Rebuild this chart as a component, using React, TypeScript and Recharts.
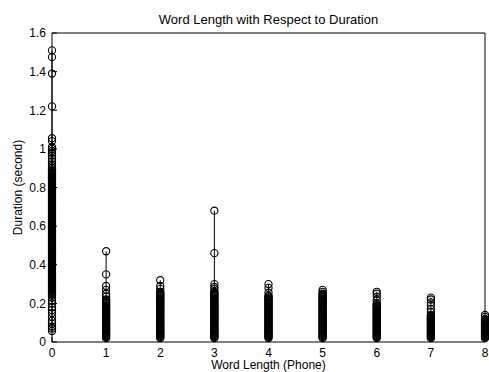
import { Label, Scatter, ScatterChart, XAxis, YAxis } from "recharts";

// word length in phones
const WORD_LENGTHS = [0, 1, 2, 3, 4, 5, 6, 7, 8];
const X_TICKS = [0, 1, 2, 3, 4, 5, 6, 7, 8];
const Y_TICKS = [0, 0.2, 0.4, 0.6, 0.8, 1, 1.2, 1.4, 1.6];

// durations (second), bottom to top; the solid parts of a column are packed tight
const DUR_0 = [
  0.057, 0.07, 0.08, 0.095, 0.11, 0.13, 0.15, 0.165, 0.18, 0.2, 0.215, 0.23,
  0.24, 0.245, 0.25, 0.255, 0.26, 0.265, 0.27, 0.275, 0.28, 0.285, 0.29, 0.295,
  0.3, 0.305, 0.31, 0.315, 0.32, 0.325, 0.33, 0.335, 0.34, 0.345, 0.35, 0.355,
  0.36, 0.365, 0.37, 0.375, 0.38, 0.385, 0.39, 0.395, 0.4, 0.405, 0.41, 0.415,
  0.42, 0.425, 0.43, 0.435, 0.44, 0.445, 0.45, 0.455, 0.46, 0.465, 0.47, 0.475,
  0.48, 0.485, 0.49, 0.495, 0.5, 0.505, 0.51, 0.515, 0.52, 0.525, 0.53, 0.535,
  0.54, 0.545, 0.55, 0.555, 0.56, 0.565, 0.57, 0.575, 0.58, 0.585, 0.59, 0.595,
  0.6, 0.605, 0.61, 0.615, 0.62, 0.625, 0.63, 0.635, 0.64, 0.645, 0.65, 0.655,
  0.66, 0.665, 0.67, 0.675, 0.68, 0.685, 0.69, 0.695, 0.7, 0.705, 0.71, 0.715,
  0.72, 0.725, 0.73, 0.735, 0.74, 0.745, 0.75, 0.755, 0.76, 0.765, 0.77, 0.775,
  0.78, 0.785, 0.79, 0.795, 0.8, 0.805, 0.81, 0.815, 0.82, 0.825, 0.83, 0.835,
  0.84, 0.845, 0.85, 0.855, 0.86, 0.865, 0.87, 0.875, 0.88, 0.885, 0.89, 0.9,
  0.91, 0.92, 0.935, 0.95, 0.965, 0.98, 0.99, 1.0, 1.01, 1.04, 1.055,
  1.22, 1.39, 1.475, 1.51,
];
const DUR_1 = [
  0.02, 0.025, 0.03, 0.035, 0.04, 0.045, 0.05, 0.055, 0.06, 0.065, 0.07, 0.075,
  0.08, 0.085, 0.09, 0.095, 0.1, 0.105, 0.11, 0.115, 0.12, 0.125, 0.13, 0.135,
  0.14, 0.145, 0.15, 0.155, 0.16, 0.165, 0.17, 0.175, 0.18, 0.185, 0.19, 0.195,
  0.2, 0.205, 0.21, 0.215, 0.22, 0.235, 0.25, 0.27, 0.29, 0.35, 0.47,
];
const DUR_2 = [
  0.02, 0.025, 0.03, 0.035, 0.04, 0.045, 0.05, 0.055, 0.06, 0.065, 0.07, 0.075,
  0.08, 0.085, 0.09, 0.095, 0.1, 0.105, 0.11, 0.115, 0.12, 0.125, 0.13, 0.135,
  0.14, 0.145, 0.15, 0.155, 0.16, 0.165, 0.17, 0.175, 0.18, 0.185, 0.19, 0.195,
  0.2, 0.205, 0.21, 0.215, 0.22, 0.225, 0.23, 0.235, 0.24, 0.245, 0.25, 0.255,
  0.26, 0.275, 0.29, 0.32,
];
const DUR_3 = [
  0.02, 0.025, 0.03, 0.035, 0.04, 0.045, 0.05, 0.055, 0.06, 0.065, 0.07, 0.075,
  0.08, 0.085, 0.09, 0.095, 0.1, 0.105, 0.11, 0.115, 0.12, 0.125, 0.13, 0.135,
  0.14, 0.145, 0.15, 0.155, 0.16, 0.165, 0.17, 0.175, 0.18, 0.185, 0.19, 0.195,
  0.2, 0.205, 0.21, 0.215, 0.22, 0.225, 0.23, 0.235, 0.24, 0.245, 0.25, 0.255,
  0.26, 0.275, 0.285, 0.3, 0.46, 0.68,
];
const DUR_4 = [
  0.02, 0.025, 0.03, 0.035, 0.04, 0.045, 0.05, 0.055, 0.06, 0.065, 0.07, 0.075,
  0.08, 0.085, 0.09, 0.095, 0.1, 0.105, 0.11, 0.115, 0.12, 0.125, 0.13, 0.135,
  0.14, 0.145, 0.15, 0.155, 0.16, 0.165, 0.17, 0.175, 0.18, 0.185, 0.19, 0.195,
  0.2, 0.205, 0.21, 0.215, 0.22, 0.225, 0.23, 0.235, 0.24, 0.255, 0.28, 0.3,
];
const DUR_5 = [
  0.02, 0.025, 0.03, 0.035, 0.04, 0.045, 0.05, 0.055, 0.06, 0.065, 0.07, 0.075,
  0.08, 0.085, 0.09, 0.095, 0.1, 0.105, 0.11, 0.115, 0.12, 0.125, 0.13, 0.135,
  0.14, 0.145, 0.15, 0.155, 0.16, 0.165, 0.17, 0.175, 0.18, 0.185, 0.19, 0.195,
  0.2, 0.205, 0.21, 0.215, 0.22, 0.225, 0.23, 0.235, 0.24, 0.245, 0.25, 0.26, 0.27,
];
const DUR_6 = [
  0.02, 0.025, 0.03, 0.035, 0.04, 0.045, 0.05, 0.055, 0.06, 0.065, 0.07, 0.075,
  0.08, 0.085, 0.09, 0.095, 0.1, 0.105, 0.11, 0.115, 0.12, 0.125, 0.13, 0.135,
  0.14, 0.145, 0.15, 0.155, 0.16, 0.165, 0.17, 0.175, 0.18, 0.185, 0.19, 0.195,
  0.2, 0.215, 0.235, 0.25, 0.26,
];
const DUR_7 = [
  0.02, 0.025, 0.03, 0.035, 0.04, 0.045, 0.05, 0.055, 0.06, 0.065, 0.07, 0.075,
  0.08, 0.085, 0.09, 0.095, 0.1, 0.105, 0.11, 0.115, 0.12, 0.125, 0.13, 0.135,
  0.14, 0.155, 0.17, 0.19, 0.205, 0.22, 0.23,
];
const DUR_8 = [
  0.02, 0.025, 0.03, 0.035, 0.04, 0.045, 0.05, 0.055, 0.06, 0.065, 0.07, 0.075,
  0.08, 0.085, 0.09, 0.095, 0.1, 0.105, 0.11, 0.115, 0.12, 0.13, 0.14,
];

const DURATIONS = [DUR_0, DUR_1, DUR_2, DUR_3, DUR_4, DUR_5, DUR_6, DUR_7, DUR_8];

const FONT = "'Liberation Sans', Arial, sans-serif";
const INK = "#000";

function Ring(props: any) {
  const { cx, cy } = props;
  if (cx == null || cy == null) return <g />;
  return <circle cx={cx} cy={cy} r={3.6} fill="none" stroke={INK} strokeWidth={1.1} />;
}

export default function App() {
  const series = WORD_LENGTHS.map((len, i) => DURATIONS[i].map(d => ({ len, d })));
  const last = series.length - 1;

  return (
    <div style={{ position: "absolute", left: 0, top: 0, width: 489, height: 372, background: "#fff", fontFamily: FONT }}>
      <div style={{ position: "absolute", left: 52, width: 433, top: 12, textAlign: "center", fontSize: 13, color: INK }}>
        Word Length with Respect to Duration
      </div>
      <ScatterChart width={489} height={372} margin={{ top: 32, right: 3, bottom: 0, left: 0 }}>
        <XAxis
          type="number"
          dataKey="len"
          domain={[0, 8]}
          ticks={X_TICKS}
          interval={0}
          height={30}
          stroke={INK}
          tickSize={-5}
          tickMargin={11}
          tick={{ fill: INK, fontSize: 12, fontFamily: FONT }}
        >
          <Label value="Word Length (Phone)" position="insideBottom" offset={3} fill={INK} fontSize={12} fontFamily={FONT} />
        </XAxis>
        <XAxis xAxisId="top" orientation="top" type="number" dataKey="len" domain={[0, 8]} ticks={X_TICKS} interval={0} height={1} stroke={INK} tickSize={-5} tickMargin={0} tick={false} />
        <YAxis
          type="number"
          dataKey="d"
          domain={[0, 1.6]}
          ticks={Y_TICKS}
          interval={0}
          width={52}
          stroke={INK}
          tickSize={-5}
          tickMargin={11}
          tick={{ fill: INK, fontSize: 12, fontFamily: FONT }}
        >
          <Label value="Duration (second)" angle={-90} position="insideLeft" offset={18} style={{ textAnchor: "middle" }} fill={INK} fontSize={12} fontFamily={FONT} />
        </YAxis>
        <YAxis yAxisId="right" orientation="right" type="number" dataKey="d" domain={[0, 1.6]} ticks={Y_TICKS} interval={0} width={1} stroke={INK} tickSize={-5} tickMargin={0} tick={false} />
        {series.map((data, i) => (
          <Scatter
            key={i}
            data={data}
            xAxisId={i === last ? "top" : 0}
            yAxisId={i === last ? "right" : 0}
            line={{ stroke: INK, strokeWidth: 1 }}
            lineType="joint"
            shape={Ring}
            isAnimationActive={false}
          />
        ))}
      </ScatterChart>
    </div>
  );
}
